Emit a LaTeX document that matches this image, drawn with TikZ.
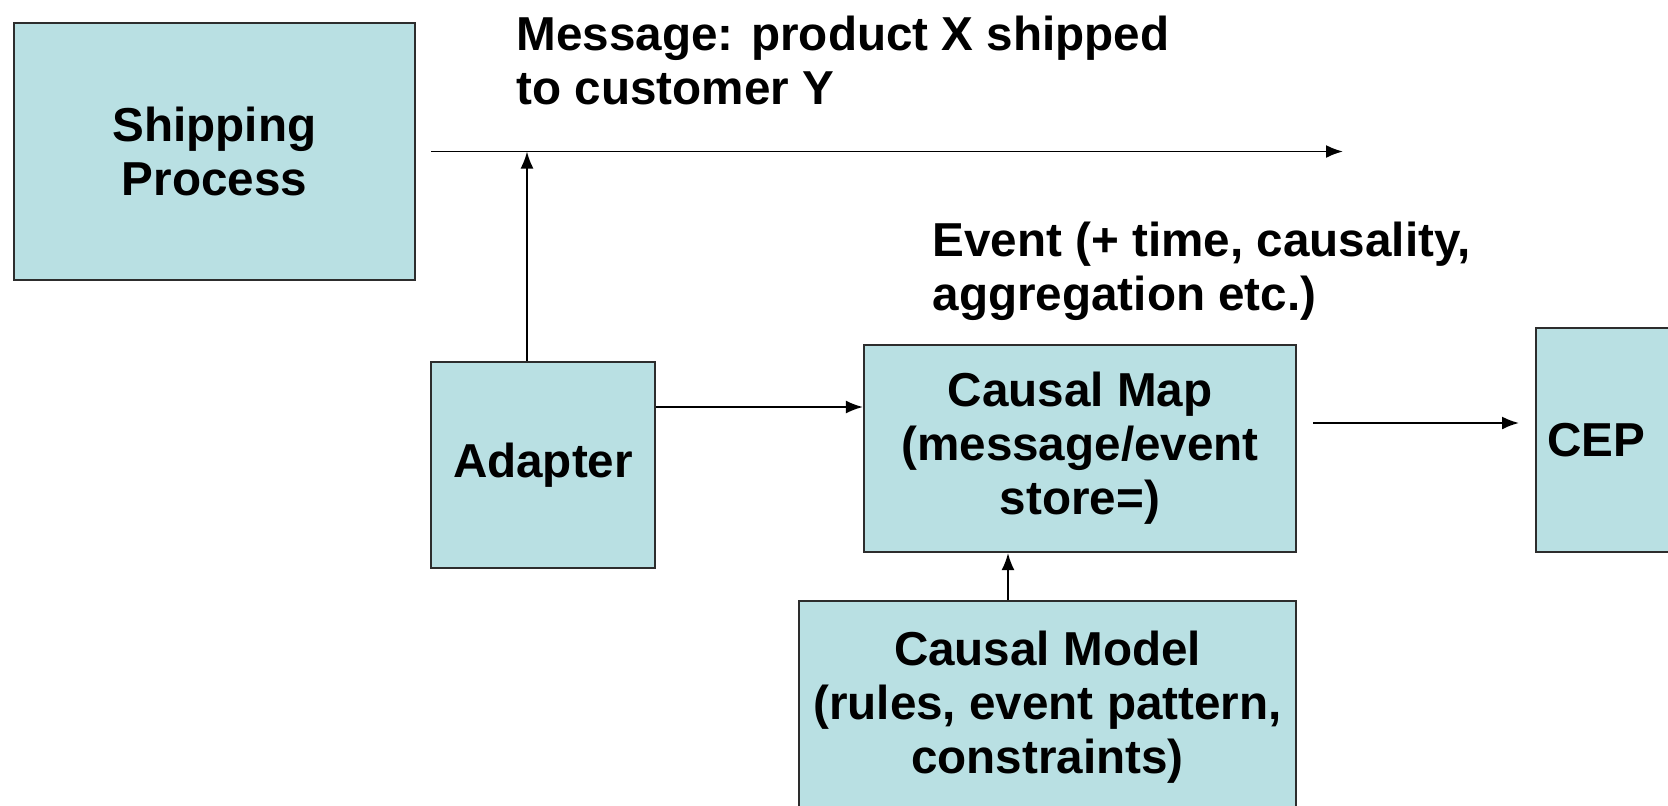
\documentclass[tikz,border=0pt]{standalone}
\usepackage{fontspec}
\setmainfont{Liberation Sans}
\usetikzlibrary{positioning,arrows.meta}
\definecolor{boxfill}{RGB}{185,224,227}
\definecolor{boxline}{RGB}{45,45,45}
\tikzset{
  box/.style={
    draw=boxline, fill=boxfill, rectangle, line width=0.6pt, align=center,
    inner sep=0mm, font=\fontsize{13.55}{15.4}\selectfont\bfseries
  },
  lbl/.style={
    anchor=west, inner sep=0mm, align=left, font=\fontsize{13.55}{15.4}\selectfont\bfseries
  },
  arrow/.style={
    -{Latex[length=1.7mm,width=1.3mm]}, line width=0.55pt
  }
}

\begin{document}
\begin{tikzpicture}
  \clip (0,0) rectangle (16.68,-8.05);
  \begin{scope}
   \node[box, minimum width=4.01cm, minimum height=2.57cm] (ship) at (2.145,-1.515) {Shipping\\Process};
   \node[box, minimum width=2.24cm, minimum height=2.06cm] (adapter) at (5.43,-4.65) {Adapter};
   \node[box, minimum width=4.32cm, minimum height=2.07cm] (map) at (10.80,-4.485) {Causal Map\\(message/event\\store=)};
   \node[box, minimum width=4.97cm, minimum height=2.12cm] (model) at (10.475,-7.07) {Causal Model\\(rules, event pattern,\\constraints)};
   \node[box, anchor=west, minimum height=2.24cm, text width=1.98cm, align=left, inner xsep=1.1mm] (cep) at (15.35,-4.40) {CEP};

   \node[lbl] (msg) at (5.16,-0.605) {Message: product X shipped\\to customer Y};
   \node[lbl] (event) at (9.32,-2.715) {Event (+ time, causality,\\aggregation etc.)};
   \coordinate (msgend) at (13.43,-1.515);
  \end{scope}

  \draw[arrow] ([xshift=1.5mm]ship.east) -- (msgend);
  \draw[arrow] ([xshift=-1.6mm]adapter.north) -- ([xshift=-1.6mm]adapter.north |- ship.east);
  \draw[arrow] ([yshift=5.8mm]adapter.east) -- ([yshift=4.15mm]map.west);
  \draw[arrow, shorten <=1.6mm, shorten >=1.6mm] ([yshift=2.55mm]map.east) -- ([yshift=1.7mm]cep.west);
  \draw[arrow] ([xshift=-3.95mm]model.north) -- ([xshift=-3.95mm]model.north |- map.south);
\end{tikzpicture}
\end{document}
